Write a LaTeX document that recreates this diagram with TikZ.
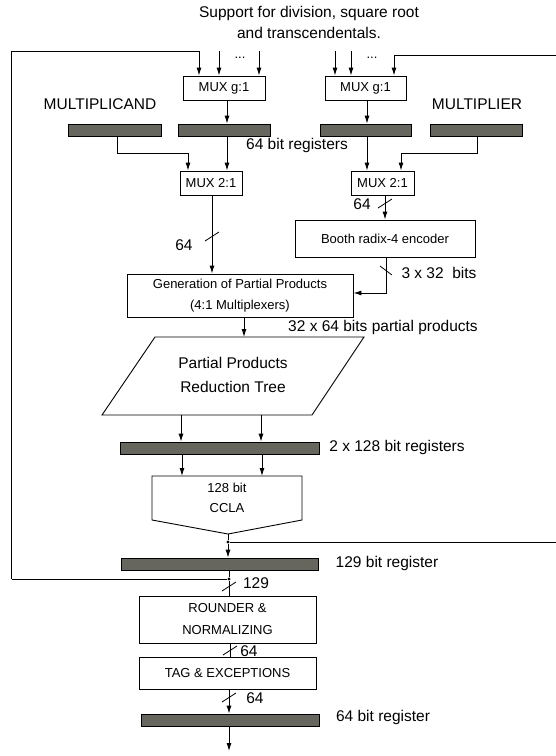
\documentclass[tikz,border=0pt]{standalone}
\usepackage{fontspec}
\setmainfont{Liberation Sans}
\usetikzlibrary{arrows.meta}
\definecolor{regfill}{RGB}{102,102,94}
\newcommand\bigtxt{\fontsize{15.5}{21}\selectfont}
\newcommand\smalltxt{\fontsize{13}{21}\selectfont}

\begin{document}
\begin{tikzpicture}[x=1pt,y=-1pt,
  wire/.style={line width=0.9pt},
  arr/.style={wire,-{Latex[length=8pt,width=5pt]}},
  blk/.style={draw,line width=0.9pt,fill=white,inner sep=0pt,align=center,font=\smalltxt},
  reg/.style={draw,line width=0.8pt,fill=regfill,inner sep=0pt,minimum height=12pt},
  lbl/.style={inner sep=0pt,font=\bigtxt,align=center},
  slbl/.style={inner sep=0pt,font=\smalltxt,align=center},
  slashmark/.style={line width=0.8pt},
  tapdot/.style={circle,fill,inner sep=0pt,minimum size=3.2pt}
]
\useasboundingbox (0,0) rectangle (556,756);

% ---- headline ----
\node[lbl] (title) at (309,22.5) {Support for division, square root\\and transcendentals.};

% ---- operand selection multiplexers ----
\node[blk,minimum width=82pt,minimum height=24pt] (muxgL) at (224,88) {MUX g:1};
\node[blk,minimum width=81pt,minimum height=24pt] (muxgR) at (365.5,88) {MUX g:1};
\node[slbl] (dotsL) at (240,58) {...};
\node[slbl] (dotsR) at (372,58) {...};

\node[lbl] (mcand) at (100,104) {MULTIPLICAND};
\node[lbl] (mplier) at (477,104) {MULTIPLIER};

% ---- 64 bit registers ----
\node[reg,minimum width=93pt] (regA) at (114.5,130) {};
\node[reg,minimum width=92pt] (regB) at (224,130) {};
\node[reg,minimum width=91pt] (regC) at (365.5,130) {};
\node[reg,minimum width=92pt] (regD) at (476,130) {};
\node[lbl] (reglbl) at (297,145) {64 bit registers};

\node[blk,minimum width=62pt,minimum height=24pt] (mux2L) at (211,183) {MUX 2:1};
\node[blk,minimum width=63pt,minimum height=24pt] (mux2R) at (382.5,183) {MUX 2:1};

\node[blk,minimum width=180pt,minimum height=37pt] (booth) at (385,238.5) {Booth radix-4 encoder};
\node[blk,minimum width=226pt,minimum height=43pt] (gen) at (240,295.5) {Generation of Partial Products\\(4:1 Multiplexers)};

% ---- reduction tree ----
\coordinate (ppTL) at (155,337);
\coordinate (ppTR) at (364,337);
\coordinate (ppBR) at (312,415);
\coordinate (ppBL) at (102,415);
\draw[wire,fill=white] (ppTL) -- (ppTR) -- (ppBR) -- (ppBL) -- cycle;
\node[lbl] (pprt) at (233,375) {Partial Products\\[3pt]Reduction Tree};

\node[reg,minimum width=199pt] (reg128) at (219.5,448) {};
\node[lbl] (reg128lbl) at (397,447) {2 x 128 bit registers};

% ---- carry look-ahead adder ----
\coordinate (cTL) at (152,476);
\coordinate (cTR) at (302,476);
\coordinate (cR) at (302,520);
\coordinate (cB) at (228,534);
\coordinate (cL) at (152,520);
\draw[wire,fill=white] (cTL) -- (cTR) -- (cR) -- (cB) -- (cL) -- cycle;
\node[slbl] (ccla) at (227,498) {128 bit\\[-1pt]CCLA};

\node[tapdot] (tapA) at (228,542) {};
\node[reg,minimum width=197pt] (reg129) at (219.5,564) {};
\node[lbl] (reg129lbl) at (387,563) {129 bit register};
\node[tapdot] (tapB) at (229,579) {};

\node[blk,minimum width=177pt,minimum height=47pt] (round) at (227.5,619.5) {ROUNDER \&\\[1pt]NORMALIZING};
\node[blk,minimum width=177pt,minimum height=32pt] (tag) at (227.5,673) {TAG \& EXCEPTIONS};
\node[reg,minimum width=178pt] (reg64) at (230,720) {};
\node[lbl] (reg64lbl) at (383,717) {64 bit register};
\coordinate (out) at (229,751);

% ---- width labels ----
\node[lbl] (w1) at (184,245) {64};
\node[lbl] (w2) at (362,204) {64};
\node[lbl] (w3) at (439,273) {3 x 32\ \ bits};
\node[lbl] (w4) at (383,327) {32 x 64 bits partial products};
\node[lbl] (w5) at (256,583) {129};
\node[lbl] (w6) at (249,651) {64};
\node[lbl] (w7) at (255,698) {64};

% ---- helper coordinates for wire routing ----
\coordinate (fbTL) at (11.7,51);
\coordinate (fbBL) at (11.7,579);
\coordinate (inL1) at (199,51);
\coordinate (inL2) at (219,51);
\coordinate (inL3) at (259,51);
\coordinate (inR1) at (335,51);
\coordinate (inR2) at (351,51);
\coordinate (inR3) at (394,55.5);
\coordinate (fbTR) at (560,55.5);
\coordinate (fbBR) at (560,542);
\coordinate (xB) at (227,0);
\coordinate (xC) at (367,0);
\coordinate (kneeA) at (117,153);
\coordinate (kneeA2) at (188,153);
\coordinate (kneeD) at (477,153);
\coordinate (kneeD2) at (401,153);
\coordinate (xL) at (212,0);
\coordinate (xR) at (385,0);
\coordinate (boothOut) at (386,293);
\coordinate (xG) at (244,0);
\coordinate (xT1) at (181,0);
\coordinate (xT2) at (261,0);
\coordinate (xU1) at (182,0);
\coordinate (xU2) at (262,0);
\coordinate (xN) at (230,0);

% ---- inputs of the selection multiplexers ----
\draw[arr] (fbBL) -- (fbTL) -- (inL1) -- (inL1 |- muxgL.north);
\draw[wire] (tapB) -- (fbBL);
\draw[arr] (inL2) -- (inL2 |- muxgL.north);
\draw[arr] (inL3) -- (inL3 |- muxgL.north);
\draw[arr] (inR1) -- (inR1 |- muxgR.north);
\draw[arr] (inR2) -- (inR2 |- muxgR.north);
\draw[arr] (tapA) -- (fbBR) -- (fbTR) -- (inR3) -- (inR3 |- muxgR.north);

% ---- registers to 2:1 multiplexers ----
\draw[arr] (muxgL.south -| xB) -- (regB.north -| xB);
\draw[arr] (muxgR.south -| xC) -- (regC.north -| xC);
\draw[arr] (regB.south -| xB) -- (mux2L.north -| xB);
\draw[arr] (regC.south -| xC) -- (mux2R.north -| xC);
\draw[arr] (regA.south -| kneeA) -- (kneeA) -- (kneeA2) -- (kneeA2 |- mux2L.north);
\draw[arr] (regD.south -| kneeD) -- (kneeD) -- (kneeD2) -- (kneeD2 |- mux2R.north);

% ---- partial product generation ----
\draw[arr] (mux2L.south -| xL) -- (gen.north -| xL);
\draw[arr] (mux2R.south -| xR) -- (booth.north -| xR);
\draw[arr] (booth.south -| boothOut) -- (boothOut) -- (boothOut -| gen.east);
\draw[arr] (gen.south -| xG) -- (ppTL -| xG);

% ---- reduction, addition ----
\draw[arr] (ppBL -| xT1) -- (reg128.north -| xT1);
\draw[arr] (ppBL -| xT2) -- (reg128.north -| xT2);
\draw[arr] (reg128.south -| xU1) -- (cTL -| xU1);
\draw[arr] (reg128.south -| xU2) -- (cTL -| xU2);
\draw[wire] (cB) -- (tapA);
\draw[arr] (tapA) -- (reg129.north -| tapA);

% ---- rounding and output ----
\draw[wire] (reg129.south -| tapB) -- (tapB) -- (round.north -| tapB);
\draw[wire] (round.south -| xN) -- (tag.north -| xN);
\draw[arr] (tag.south -| out) -- (reg64.north -| out);
\draw[arr] (reg64.south -| out) -- (out);

% ---- bus width slashes ----
\draw[slashmark] (205,241) -- (219,232);
\draw[slashmark] (378,208) -- (392,199);
\draw[slashmark] (380,266) -- (392,275);
\draw[slashmark] (222,591) -- (236,582);
\draw[slashmark] (223,655) -- (237,646);
\draw[slashmark] (222,702) -- (236,693);
\end{tikzpicture}
\end{document}
